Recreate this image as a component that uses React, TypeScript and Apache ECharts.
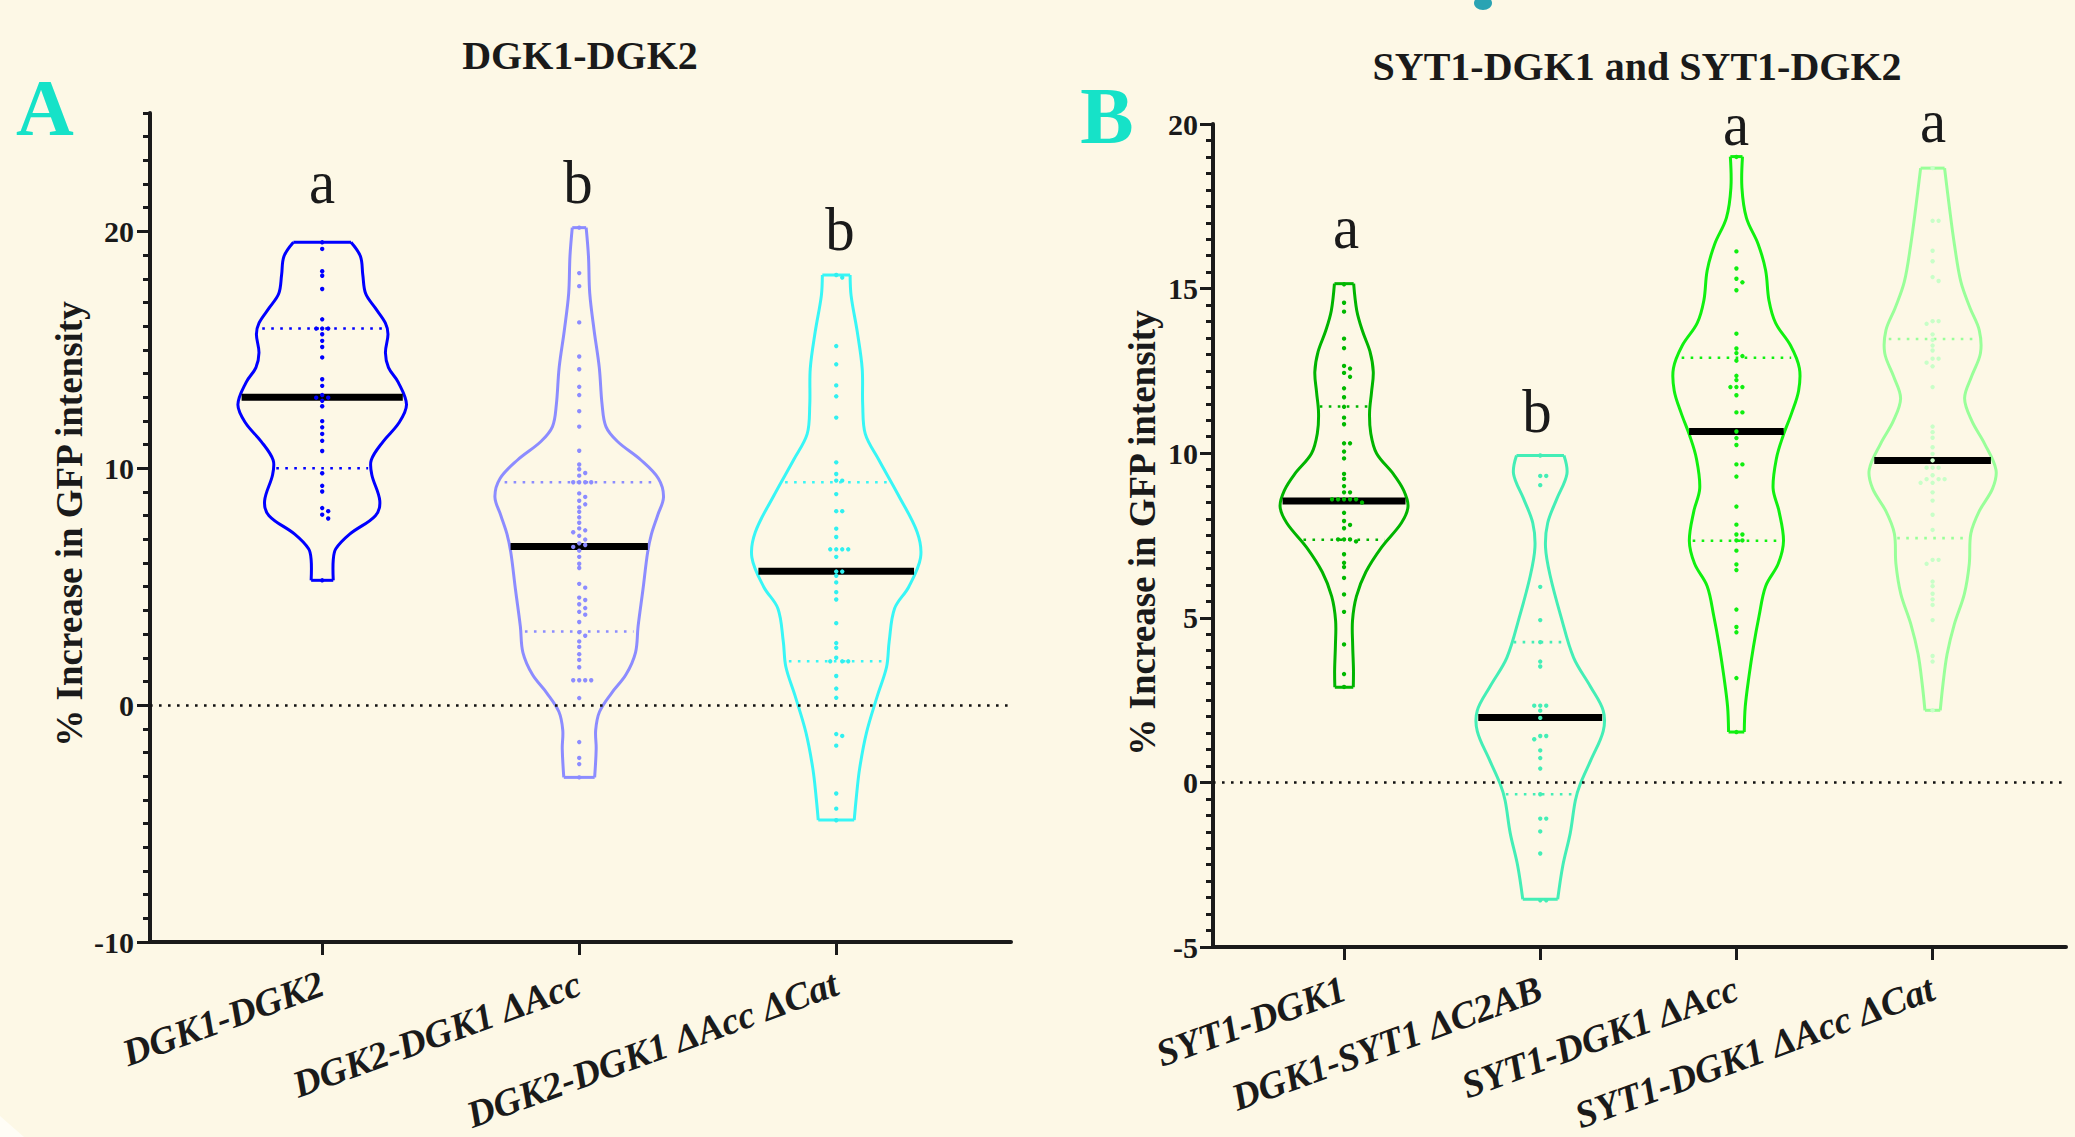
import React, { useEffect, useRef } from "react";
import * as echarts from "echarts";

// ---------------- data ----------------
const titleA = "DGK1-DGK2";
const titleB = "SYT1-DGK1 and SYT1-DGK2";
const yAxisTitle = "% Increase in GFP intensity";
const categoriesA = ["DGK1-DGK2", "DGK2-DGK1 ΔAcc", "DGK2-DGK1 ΔAcc ΔCat"];
const categoriesB = ["SYT1-DGK1", "DGK1-SYT1 ΔC2AB", "SYT1-DGK1 ΔAcc", "SYT1-DGK1 ΔAcc ΔCat"];
const lettersA = ["a", "b", "b"];
const lettersB = ["a", "b", "a", "a"];
const yTickLabelsA = [-10, 0, 10, 20];
const yTickLabelsB = [-5, 0, 5, 10, 15, 20];

const mediansA = [13.0, 6.7, 5.65];
const q1A = [10.0, 3.11, 1.85];
const q3A = [15.9, 9.41, 9.41];
const mediansB = [8.55, 1.97, 10.66, 9.78];
const q1B = [7.37, -0.36, 7.34, 7.42];
const q3B = [11.42, 4.26, 12.9, 13.47];

// violin outlines: [value, half width in category units], top to bottom
const profileA1 = [[19.54, 0.112], [18.94, 0.149], [18.16, 0.158], [17.38, 0.169], [16.76, 0.207], [16.13, 0.246], [15.66, 0.256], [14.88, 0.246], [14.25, 0.258], [13.63, 0.296], [12.69, 0.328], [11.91, 0.298], [11.13, 0.237], [10.35, 0.191], [9.73, 0.193], [8.63, 0.224], [8.0, 0.207], [7.22, 0.107], [6.6, 0.053], [6.13, 0.043], [5.27, 0.043]];
const profileA2 = [[20.16, 0.027], [18.95, 0.036], [17.38, 0.041], [15.82, 0.058], [14.26, 0.078], [12.69, 0.089], [11.76, 0.104], [11.13, 0.149], [10.35, 0.24], [9.57, 0.308], [8.79, 0.328], [8.01, 0.305], [7.22, 0.281], [6.44, 0.266], [4.88, 0.248], [3.32, 0.229], [2.22, 0.219], [1.29, 0.182], [0.51, 0.126], [-0.28, 0.079], [-1.06, 0.064], [-1.84, 0.066], [-3.05, 0.06]];
const profileA3 = [[18.16, 0.054], [17.28, 0.058], [15.75, 0.082], [14.21, 0.101], [12.67, 0.103], [11.45, 0.113], [10.37, 0.165], [8.84, 0.243], [7.3, 0.315], [6.22, 0.328], [4.99, 0.282], [4.08, 0.227], [2.69, 0.206], [1.62, 0.196], [0.39, 0.16], [-1.15, 0.118], [-2.68, 0.091], [-3.91, 0.078], [-4.85, 0.07]];
const profileB1 = [[15.15, 0.049], [14.33, 0.065], [13.71, 0.094], [13.09, 0.132], [12.47, 0.149], [11.85, 0.14], [11.23, 0.13], [10.61, 0.136], [9.99, 0.166], [9.37, 0.251], [8.87, 0.304], [8.38, 0.326], [7.88, 0.292], [7.14, 0.191], [6.39, 0.111], [5.65, 0.063], [4.91, 0.043], [4.16, 0.044], [3.42, 0.048], [2.89, 0.047]];
const profileB2 = [[9.93, 0.121], [9.37, 0.136], [8.62, 0.085], [7.88, 0.038], [7.14, 0.027], [6.27, 0.051], [5.03, 0.106], [3.79, 0.17], [2.92, 0.255], [2.18, 0.321], [1.56, 0.321], [0.69, 0.259], [-0.05, 0.204], [-0.55, 0.179], [-1.54, 0.153], [-2.53, 0.115], [-3.55, 0.089]];
const profileB3 = [[19.01, 0.031], [18.07, 0.028], [17.15, 0.051], [16.35, 0.111], [15.55, 0.149], [14.64, 0.166], [13.95, 0.2], [13.27, 0.276], [12.58, 0.321], [11.9, 0.317], [11.21, 0.281], [10.53, 0.238], [9.84, 0.204], [8.93, 0.187], [8.24, 0.217], [7.33, 0.24], [6.64, 0.213], [5.96, 0.149], [5.04, 0.115], [4.13, 0.087], [3.22, 0.064], [2.3, 0.045], [1.53, 0.04]];
const profileB4 = [[18.66, 0.061], [17.5, 0.085], [16.35, 0.111], [15.21, 0.144], [14.41, 0.191], [13.73, 0.238], [13.04, 0.244], [12.35, 0.2], [11.67, 0.163], [10.98, 0.2], [10.3, 0.264], [9.5, 0.323], [8.93, 0.306], [8.24, 0.238], [7.56, 0.195], [6.64, 0.187], [5.73, 0.162], [4.81, 0.111], [3.9, 0.074], [2.99, 0.053], [2.19, 0.039]];

// individual measurements
const pointsA1 = [19.54, 19.26, 18.32, 18.13, 17.57, 16.29, 15.9, 15.9, 15.9, 15.66, 15.38, 15.12, 14.68, 13.76, 13.48, 13.09, 12.98, 12.98, 12.85, 12.62, 11.99, 11.73, 11.45, 11.16, 10.73, 9.79, 9.26, 9.02, 8.32, 8.19, 8.04, 7.88, 5.27];
const pointsA2 = [20.16, 18.24, 17.69, 16.16, 14.72, 14.18, 13.44, 13.09, 12.41, 11.76, 10.74, 10.16, 9.96, 9.8, 9.69, 9.41, 9.41, 9.41, 9.41, 8.94, 8.79, 8.63, 8.48, 8.35, 8.16, 7.93, 7.7, 7.46, 7.38, 7.3, 7.15, 6.99, 6.83, 6.76, 6.68, 6.52, 6.26, 5.97, 5.79, 5.12, 4.96, 4.54, 4.44, 4.26, 4.1, 3.94, 3.82, 3.51, 3.08, 2.93, 2.69, 2.46, 2.15, 1.91, 1.6, 1.05, 1.05, 1.05, 1.05, 0.3, -1.56, -2.23, -2.49, -3.05];
const pointsA3 = [18.16, 18.05, 15.16, 14.39, 13.5, 13.04, 12.14, 10.25, 9.76, 9.48, 9.48, 8.91, 8.19, 8.19, 7.45, 7.1, 6.58, 6.58, 6.58, 6.58, 6.26, 5.64, 5.64, 5.46, 5.18, 4.77, 4.46, 3.46, 2.62, 2.42, 2.0, 1.85, 1.85, 1.85, 1.23, 0.7, 0.31, -1.22, -1.3, -1.71, -3.73, -4.37, -4.86];
const pointsB1 = [15.13, 14.57, 14.3, 13.48, 13.19, 12.65, 12.57, 12.44, 12.32, 11.97, 11.7, 11.41, 11.08, 10.88, 10.3, 10.3, 10.05, 9.84, 9.37, 9.22, 9.0, 8.81, 8.81, 8.6, 8.6, 8.6, 8.6, 8.6, 8.5, 8.19, 7.94, 7.82, 7.72, 7.38, 7.38, 7.38, 7.32, 6.93, 6.67, 6.54, 6.21, 5.71, 5.18, 4.19, 3.29, 2.9];
const pointsB2 = [9.93, 9.31, 9.31, 9.03, 5.94, 4.93, 4.26, 3.67, 3.52, 2.33, 2.33, 2.33, 2.18, 1.96, 1.41, 1.41, 1.31, 0.97, 0.74, 0.42, -0.36, -1.1, -1.1, -1.49, -2.16, -3.58, -3.58];
const pointsB3 = [19.0, 16.13, 15.61, 15.3, 15.19, 14.95, 13.63, 13.18, 13.04, 12.95, 12.81, 12.35, 12.22, 12.01, 12.01, 12.01, 11.76, 11.24, 11.24, 10.66, 10.46, 10.25, 9.66, 9.66, 9.29, 8.38, 7.83, 7.53, 7.53, 7.35, 7.35, 7.04, 6.62, 6.45, 5.25, 4.72, 4.56, 3.17, 1.53];
const pointsB4 = [18.66, 17.06, 17.06, 16.15, 15.83, 15.35, 15.23, 14.01, 14.01, 13.93, 13.61, 13.44, 13.27, 13.12, 12.87, 12.87, 12.75, 12.64, 12.01, 10.81, 10.64, 10.47, 10.18, 9.98, 9.78, 9.56, 9.56, 9.56, 9.33, 9.21, 9.21, 9.21, 9.1, 9.1, 8.81, 8.56, 8.13, 7.67, 6.76, 6.76, 6.64, 6.1, 5.96, 5.73, 5.56, 5.39, 4.93, 3.84, 3.67, 2.19];

// ---------------- styles ----------------
const BG = "#fdf8e6";
const INK = "#1a1a1a";
const SERIF = '"Liberation Serif", "Times New Roman", serif';
const colorsA = ["#0000ff", "#8c8cff", "#38f6f6"];
const pointColorsA = ["#0000ff", "#8c8cff", "#30f0f0"];
const colorsB = ["#00b400", "#44eeb6", "#10f010", "#99ff99"];
const pointColorsB = ["#00b800", "#44eeb6", "#10ee10", "#c8ffc8"];

type Violin = {
  profile: number[][];
  points: number[];
  median: number;
  q1: number;
  q3: number;
  color: string;
  pointColor: string;
};

const violinsA: Violin[] = [profileA1, profileA2, profileA3].map((p, i) => ({
  profile: p,
  points: [pointsA1, pointsA2, pointsA3][i],
  median: mediansA[i],
  q1: q1A[i],
  q3: q3A[i],
  color: colorsA[i],
  pointColor: pointColorsA[i],
}));
const violinsB: Violin[] = [profileB1, profileB2, profileB3, profileB4].map((p, i) => ({
  profile: p,
  points: [pointsB1, pointsB2, pointsB3, pointsB4][i],
  median: mediansB[i],
  q1: q1B[i],
  q3: q3B[i],
  color: colorsB[i],
  pointColor: pointColorsB[i],
}));

function widthAt(profile: number[][], y: number): number {
  for (let k = 0; k < profile.length - 1; k++) {
    const [y0, w0] = profile[k];
    const [y1, w1] = profile[k + 1];
    if (y <= y0 && y >= y1) {
      const t = (y0 - y) / (y0 - y1);
      return w0 + (w1 - w0) * t;
    }
  }
  return 0;
}

function makeRenderItem(group: Violin[]) {
  return (params: any, api: any) => {
    const i = params.dataIndex;
    const v = group[i];
    const ch: any[] = [];
    const right = v.profile.map(([y, w]) => api.coord([i + w, y]));
    const left = v.profile.map(([y, w]) => api.coord([i - w, y]));
    const n = right.length - 1;
    const outline = { stroke: v.color, lineWidth: 3, fill: null, lineJoin: "round" };
    ch.push({ type: "polyline", shape: { points: right, smooth: 0.35 }, style: outline });
    ch.push({ type: "polyline", shape: { points: left, smooth: 0.35 }, style: outline });
    ch.push({ type: "line", shape: { x1: left[0][0], y1: left[0][1], x2: right[0][0], y2: right[0][1] }, style: outline });
    ch.push({ type: "line", shape: { x1: left[n][0], y1: left[n][1], x2: right[n][0], y2: right[n][1] }, style: outline });
    for (const q of [v.q1, v.q3]) {
      const w = widthAt(v.profile, q) * 0.93;
      const a = api.coord([i - w, q]);
      const b = api.coord([i + w, q]);
      ch.push({
        type: "line",
        shape: { x1: a[0], y1: a[1], x2: b[0], y2: b[1] },
        style: { stroke: v.color, lineWidth: 2.6, lineDash: [2.6, 6.4] },
      });
    }
    const wm = widthAt(v.profile, v.median);
    const ma = api.coord([i - wm, v.median]);
    const mb = api.coord([i + wm, v.median]);
    ch.push({
      type: "line",
      shape: { x1: ma[0] + 1, y1: ma[1], x2: mb[0] - 1, y2: mb[1] },
      style: { stroke: "#000", lineWidth: 7 },
    });
    const sorted = [...v.points].sort((a, b) => b - a);
    const placed: { py: number; off: number }[] = [];
    const offs = [0, 6, -6, 12, -12, 18, -18];
    for (const val of sorted) {
      const [px, py] = api.coord([i, val]);
      let chosen = 0;
      for (const o of offs) {
        if (!placed.some((p) => Math.abs(p.py - py) < 4 && p.off === o)) {
          chosen = o;
          break;
        }
      }
      placed.push({ py, off: chosen });
      ch.push({ type: "circle", shape: { cx: px + chosen, cy: py, r: 2.2 }, style: { fill: v.pointColor } });
    }
    return { type: "group", children: ch };
  };
}

const zeroLine = {
  silent: true,
  symbol: "none",
  label: { show: false },
  lineStyle: { color: "#111", type: [2.6, 6.4], width: 2.6 },
  data: [{ yAxis: 0 }],
};

function textEl(text: string, x: number, y: number, size: number, opts: any = {}) {
  return {
    type: "text",
    x,
    y,
    rotation: opts.rotation || 0,
    scaleX: opts.scaleX || 1,
    silent: true,
    style: {
      text,
      fill: opts.color || INK,
      fontSize: size,
      fontWeight: opts.weight || "bold",
      fontStyle: opts.style || "normal",
      fontFamily: SERIF,
      align: "center",
      verticalAlign: "middle",
      textAlign: "center",
      textVerticalAlign: "middle",
    },
  };
}

export default function App() {
  const ref = useRef<HTMLDivElement>(null);
  useEffect(() => {
    if (!ref.current) return;
    const chart = echarts.init(ref.current, null, { renderer: "svg" });
    const tickStyle = { color: INK, width: 3 };
    const axisLine = { show: true, onZero: false, lineStyle: { color: INK, width: 4 } };
    const xLabel = {
      rotate: 20,
      fontFamily: SERIF,
      fontWeight: "bold",
      fontStyle: "italic",
      fontSize: 38,
      color: INK,
      margin: 40,
    };
    const yLabel = { fontFamily: SERIF, fontWeight: "bold", fontSize: 30, color: INK, margin: 16 };
    const option: any = {
      animation: false,
      backgroundColor: BG,
      grid: [
        { left: 150, top: 113, width: 861, height: 829, outerBoundsMode: "none", containLabel: false },
        { left: 1213, top: 124, width: 853, height: 823, outerBoundsMode: "none", containLabel: false },
      ],
      xAxis: [
        {
          type: "value",
          gridIndex: 0,
          min: -0.67,
          max: 2.68,
          axisLine,
          axisTick: { show: true, customValues: [0, 1, 2], length: 13, lineStyle: tickStyle },
          axisLabel: { ...xLabel, customValues: [0, 1, 2], formatter: (v: number) => categoriesA[Math.round(v)] },
          splitLine: { show: false },
        },
        {
          type: "value",
          gridIndex: 1,
          min: -0.668,
          max: 3.68,
          axisLine,
          axisTick: { show: true, customValues: [0, 1, 2, 3], length: 13, lineStyle: tickStyle },
          axisLabel: { ...xLabel, customValues: [0, 1, 2, 3], formatter: (v: number) => categoriesB[Math.round(v)] },
          splitLine: { show: false },
        },
      ],
      yAxis: [
        {
          type: "value",
          gridIndex: 0,
          min: -10,
          max: 25,
          interval: 1,
          position: "left",
          axisLine,
          axisTick: { show: true, length: 7, lineStyle: tickStyle },
          axisLabel: { show: false },
          splitLine: { show: false },
        },
        {
          type: "value",
          gridIndex: 0,
          min: -10,
          max: 25,
          interval: 10,
          position: "left",
          offset: 0,
          axisLine: { show: false, onZero: false },
          axisTick: { show: true, customValues: yTickLabelsA, length: 13, lineStyle: tickStyle },
          axisLabel: { ...yLabel, customValues: yTickLabelsA },
          splitLine: { show: false },
        },
        {
          type: "value",
          gridIndex: 1,
          min: -5,
          max: 20,
          interval: 5,
          position: "left",
          axisLine,
          axisTick: { show: true, customValues: yTickLabelsB, length: 13, lineStyle: tickStyle },
          minorTick: { show: true, splitNumber: 10, length: 7, lineStyle: tickStyle },
          axisLabel: { ...yLabel, margin: 15, customValues: yTickLabelsB },
          splitLine: { show: false },
        },
      ],
      series: [
        {
          type: "custom",
          xAxisIndex: 0,
          yAxisIndex: 0,
          renderItem: makeRenderItem(violinsA),
          data: categoriesA.map((_, i) => [i, mediansA[i]]),
          encode: { x: 0, y: 1 },
          clip: false,
          markLine: zeroLine,
          z: 3,
        },
        {
          type: "custom",
          xAxisIndex: 1,
          yAxisIndex: 2,
          renderItem: makeRenderItem(violinsB),
          data: categoriesB.map((_, i) => [i, mediansB[i]]),
          encode: { x: 0, y: 1 },
          clip: false,
          markLine: zeroLine,
          z: 3,
        },
      ],
      graphic: [
        { type: "polygon", silent: true, shape: { points: [[0, 1116], [24, 1137], [0, 1137]] }, style: { fill: "#fffdf6" } },
        { type: "ellipse", silent: true, shape: { cx: 1483, cy: 3, rx: 9, ry: 7 }, style: { fill: "#2aa3b3" } },
        textEl(titleA, 580, 55, 40),
        textEl(titleB, 1637, 66, 40),
        textEl("A", 45, 108, 80, { color: "#16e2c8" }),
        textEl("B", 1107, 116, 80, { color: "#16e2c8" }),
        textEl(yAxisTitle, 69, 524, 37, { rotation: Math.PI / 2 }),
        textEl(yAxisTitle, 1142, 533, 37, { rotation: Math.PI / 2 }),
        textEl(lettersA[0], 322, 182, 62, { weight: "normal", scaleX: 0.95 }),
        textEl(lettersA[1], 578, 182, 62, { weight: "normal", scaleX: 0.95 }),
        textEl(lettersA[2], 840, 229, 62, { weight: "normal", scaleX: 0.95 }),
        textEl(lettersB[0], 1346, 227, 62, { weight: "normal", scaleX: 0.95 }),
        textEl(lettersB[1], 1537, 411, 62, { weight: "normal", scaleX: 0.95 }),
        textEl(lettersB[2], 1736, 124, 62, { weight: "normal", scaleX: 0.95 }),
        textEl(lettersB[3], 1933, 121, 62, { weight: "normal", scaleX: 0.95 }),
      ],
    };
    chart.setOption(option);
    return () => chart.dispose();
  }, []);
  return (
    <div
      ref={ref}
      style={{ position: "absolute", left: 0, top: 0, width: "2075px", height: "1137px", background: BG }}
    />
  );
}
